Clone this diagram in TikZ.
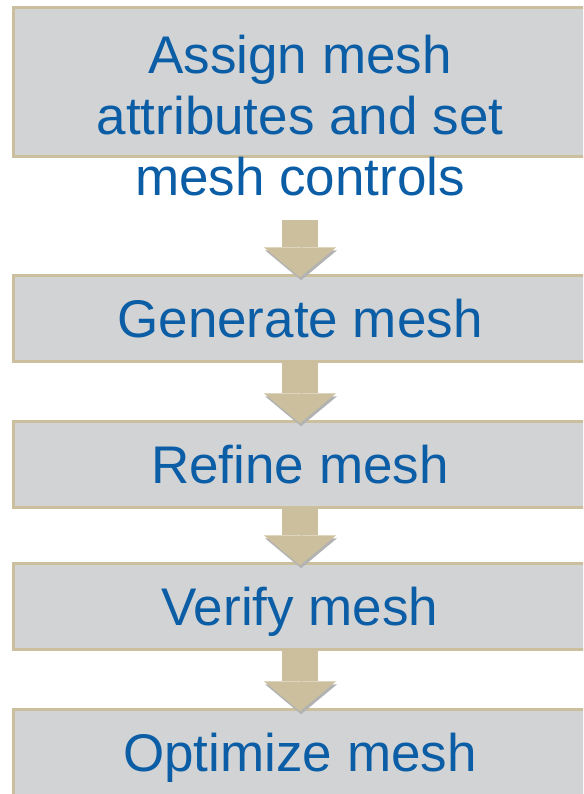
\documentclass[tikz,border=0pt]{standalone}
\usepackage{fontspec}
\setmainfont{Liberation Sans}
\usetikzlibrary{arrows.meta, positioning}
\definecolor{meshgray}{HTML}{D2D3D5}
\definecolor{meshtan}{HTML}{CCBF9E}
\definecolor{meshblue}{HTML}{0B5DA5}
\tikzstyle{stage}=[draw=meshtan,fill=meshgray,line width=2.25pt,rectangle,minimum width=430pt,minimum height=64.5pt,inner sep=0pt,text height=28.5pt,text depth=0pt]
\tikzstyle{every node}=[font=\fontsize{39.75pt}{45.75pt}\selectfont,text=meshblue]
\tikzstyle{flow}=[meshtan,line width=27pt,-{Triangle[width=54pt,length=22.5pt,line width=0pt]},shorten >=-2.5pt,preaction={draw=black!30,transform canvas={shift={(0.8pt,-2.2pt)}}}]

\begin{document}
\begin{tikzpicture}[node distance=42.75pt]
    \path[use as bounding box,clip] (0,0) rectangle (437.25pt,-595.5pt);
    \node[stage, minimum height=111.75pt] (assign) at (225pt,-61.5pt) {};
    \node[align=center, inner sep=0pt] (assigntext) at (225pt,-86.5pt) {Assign mesh\\attributes and set\\mesh controls};
    \node[stage, below=87pt of assign] (generate) {Generate mesh};
    \node[stage, below=of generate] (refine) {Refine mesh};
    \node[stage, below=39.75pt of refine] (verify) {Verify mesh};
    \node[stage, below=of verify] (optimize) {Optimize mesh};
    \coordinate (arrowtop) at (225pt,-165pt);
    \draw[flow] (arrowtop) -- (generate);
    \draw[flow] (generate) -- (refine);
    \draw[flow] (refine) -- (verify);
    \draw[flow] (verify) -- (optimize);
\end{tikzpicture}
\end{document}
